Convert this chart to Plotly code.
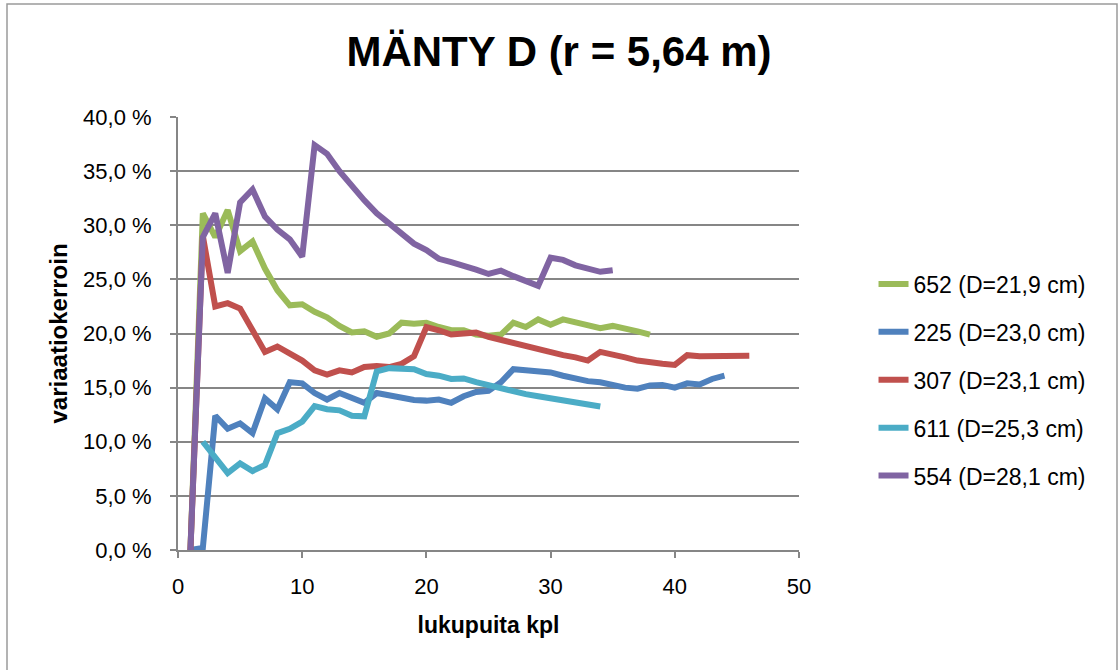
import plotly.graph_objects as go

# Number of counted trees (lukupuita kpl) per series
x_652 = list(range(1, 39))
x_225 = list(range(1, 45))
x_307 = list(range(1, 47))
x_611 = list(range(2, 35))
x_554 = list(range(1, 36))

# Coefficient of variation, percent
cv_652 = [0.0, 31.1, 28.9, 31.4, 27.6, 28.5, 26.0, 24.0, 22.6, 22.7,
          22.0, 21.5, 20.7, 20.1, 20.2, 19.7, 20.0, 21.0, 20.9, 21.0,
          20.6, 20.3, 20.3, 19.9, 19.8, 19.9, 21.0, 20.6, 21.3, 20.8,
          21.3, 21.0, 20.8, 20.5, 20.7, 20.5, 20.2, 19.9]
cv_225 = [0.0, 0.2, 12.4, 11.2, 11.7, 10.8, 14.0, 13.0, 15.5, 15.4,
          14.5, 13.9, 14.5, 14.1, 13.6, 14.5, 14.3, 14.0, 13.85, 13.8,
          13.9, 13.6, 14.2, 14.6, 14.7, 15.5, 16.7, 16.6, 16.5, 16.4,
          16.1, 15.8, 15.6, 15.5, 15.2, 15.0, 14.9, 15.2, 15.25, 15.0,
          15.4, 15.3, 15.8, 16.1]
cv_307 = [0.0, 29.0, 22.5, 22.8, 22.3, 20.4, 18.3, 18.8, 18.1, 17.5,
          16.6, 16.2, 16.6, 16.4, 16.9, 17.0, 16.9, 17.2, 17.9, 20.6,
          20.3, 19.9, 20.0, 20.1, 19.7, 19.4, 19.2, 18.9, 18.5, 18.3,
          18.0, 17.8, 17.5, 18.3, 18.1, 17.8, 17.5, 17.3, 17.2, 17.1,
          18.0, 17.9, 17.9, 17.9, 17.9, 17.95]
cv_611 = [10.0, 8.6, 7.1, 8.0, 7.3, 7.85, 10.8, 11.2, 11.85, 13.3,
          13.0, 12.9, 12.4, 12.35, 16.5, 16.8, 16.8, 16.7, 16.25, 16.1,
          15.8, 15.85, 15.5, 15.2, 14.9, 14.6, 14.4, 14.2, 14.0, 13.8,
          13.6, 13.4, 13.25]
cv_554 = [0.0, 28.9, 31.1, 25.6, 32.1, 33.3, 30.8, 29.6, 28.7, 27.1,
          37.4, 36.6, 35.0, 33.6, 32.3, 31.1, 30.2, 29.3, 28.3, 27.7,
          26.9, 26.6, 26.3, 25.9, 25.5, 25.8, 25.3, 24.8, 24.4, 27.0,
          26.8, 26.3, 26.0, 25.7, 25.85]

series_names = ["652 (D=21,9 cm)", "225 (D=23,0 cm)", "307 (D=23,1 cm)",
                "611 (D=25,3 cm)", "554 (D=28,1 cm)"]
series_x = [x_652, x_225, x_307, x_611, x_554]
series_y = [cv_652, cv_225, cv_307, cv_611, cv_554]
colors = ["#9BBB59", "#4F81BD", "#C0504D", "#4BACC6", "#8064A2"]

y_tickvals = [0, 5, 10, 15, 20, 25, 30, 35, 40]
y_ticktext = ["0,0 %", "5,0 %", "10,0 %", "15,0 %", "20,0 %",
              "25,0 %", "30,0 %", "35,0 %", "40,0 %"]
x_tickvals = [0, 10, 20, 30, 40, 50]

FONT = "Liberation Sans, Arial, sans-serif"
GRID = "#868686"

# plot area in pixels: left 178, right 799, top 117, bottom 550
PL, PR, PT, PB = 178, 799, 117, 550
PW, PH = PR - PL, PB - PT

fig = go.Figure()
for i, (name, xs, ys, c) in enumerate(zip(series_names, series_x, series_y, colors)):
    fig.add_trace(go.Scatter(
        x=xs, y=ys, name=name, mode="lines",
        line=dict(color=c, width=6),
        legendgroup=f"g{i}",
    ))

fig.update_layout(
    width=1118, height=670,
    margin=dict(l=PL, r=1118 - PR, t=PT, b=670 - PB),
    paper_bgcolor="white", plot_bgcolor="white",
    font=dict(family=FONT, color="#000000", size=22),
    title=dict(
        text="<b>MÄNTY D (r = 5,64 m)</b>",
        font=dict(family=FONT, size=42, color="#000000"),
        x=0.5, xanchor="center", xref="container",
        y=1 - 51 / 670, yanchor="middle", yref="container",
    ),
    showlegend=True,
    legend=dict(
        x=1.12, xanchor="left", y=(PB - 380) / PH, yanchor="middle",
        font=dict(family=FONT, size=23, color="#000000"),
        tracegroupgap=15,
        bgcolor="rgba(0,0,0,0)",
    ),
    xaxis=dict(
        range=[0, 50], tickvals=x_tickvals,
        showgrid=False, zeroline=False,
        showline=True, linecolor=GRID, linewidth=2,
        ticks="outside", ticklen=6, tickcolor=GRID, tickwidth=2,
        ticklabelstandoff=10,
        tickfont=dict(family=FONT, size=22),
        title=dict(text="<b>lukupuita kpl</b>", font=dict(family=FONT, size=23), standoff=18),
        automargin=False,
    ),
    yaxis=dict(
        range=[0, 40], tickvals=y_tickvals, ticktext=y_ticktext,
        showgrid=True, gridcolor=GRID, gridwidth=2,
        zeroline=False,
        showline=True, linecolor=GRID, linewidth=2,
        ticks="outside", ticklen=6, tickcolor=GRID, tickwidth=2,
        ticklabelstandoff=14,
        tickfont=dict(family=FONT, size=22),
        automargin=False,
    ),
    annotations=[dict(
        text="<b>variaatiokerroin</b>", textangle=-90,
        xref="paper", yref="paper",
        x=(58 - PL) / PW, y=0.5, xanchor="center", yanchor="middle",
        showarrow=False, font=dict(family=FONT, size=24, color="#000000"),
    )],
    shapes=[dict(
        type="rect", xref="paper", yref="paper",
        x0=(7 - PL) / PW, x1=(1117 - PL) / PW,
        y0=(PB - 674) / PH, y1=(PB - 4) / PH,
        line=dict(color="#9a9a9a", width=1.5), fillcolor="rgba(0,0,0,0)",
        layer="below",
    )],
)

fig.write_html("out.html")
